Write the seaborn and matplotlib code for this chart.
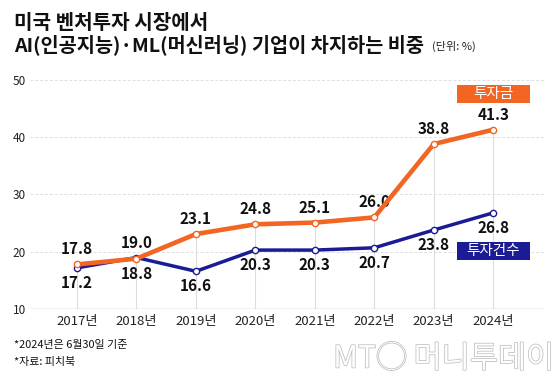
import matplotlib
matplotlib.use("Agg")
import matplotlib.pyplot as plt
import matplotlib.patheffects as pe
from matplotlib.patches import Rectangle
import seaborn as sns
import pandas as pd

# 데이터
years = ["2017년", "2018년", "2019년", "2020년", "2021년", "2022년", "2023년", "2024년"]
invest_amount = [17.8, 18.8, 23.1, 24.8, 25.1, 26.0, 38.8, 41.3]   # 투자금
invest_count = [17.2, 19.0, 16.6, 20.3, 20.3, 20.7, 23.8, 26.8]    # 투자건수
yticks = [10, 20, 30, 40, 50]

ORANGE = "#F26522"
NAVY = "#1B1B96"

sns.set_style("white")
plt.rcParams['font.family'] = ['Noto Sans CJK KR', 'DejaVu Sans']

df = pd.DataFrame({"year": years, "투자금": invest_amount, "투자건수": invest_count})

fig = plt.figure(figsize=(5.6, 3.84), dpi=100)
ax = fig.add_axes([0.0536, 0.195, 0.92, 0.597])

# 세로 보조선 (바닥에서 큰 값까지)
xs = list(range(len(years)))
tops = [max(a, b) for a, b in zip(invest_amount, invest_count)]
ax.vlines(xs, 10, tops, color="#dcdcdc", lw=0.8, zorder=0)

# 가로 점선 격자
for y in yticks[1:]:
    ax.axhline(y, color="#dedede", lw=0.7, ls=(0, (3, 2)), zorder=0)
ax.axhline(10, color="#9a9a9a", lw=0.9, zorder=1)

sns.lineplot(data=df, x="year", y="투자건수", ax=ax, color=NAVY, lw=2.5,
             marker="o", markersize=4.5, markerfacecolor="white",
             markeredgecolor=NAVY, markeredgewidth=1.0, zorder=3)
sns.lineplot(data=df, x="year", y="투자금", ax=ax, color=ORANGE, lw=3.3,
             marker="o", markersize=4.5, markerfacecolor="white",
             markeredgecolor=ORANGE, markeredgewidth=1.0, zorder=4)

# 값 라벨: 큰 값은 위, 작은 값은 아래
for i, (a, b) in enumerate(zip(invest_amount, invest_count)):
    hi, lo = (a, b) if a >= b else (b, a)
    ax.annotate(f"{hi:.1f}", (i, hi), xytext=(0, 5), textcoords="offset points",
                ha="center", va="bottom", fontsize=11, fontweight="bold", color="#111")
    ax.annotate(f"{lo:.1f}", (i, lo), xytext=(0, -5), textcoords="offset points",
                ha="center", va="top", fontsize=11, fontweight="bold", color="#111")

ax.set_xlim(-0.79, 7.875)
ax.set_ylim(10, 50)
ax.set_yticks(yticks)
ax.set_xlabel("")
ax.set_ylabel("")
ax.tick_params(axis="both", length=0, labelsize=8.5, colors="#222")
ax.tick_params(axis="x", labelsize=9.5, pad=4)
ax.tick_params(axis="y", pad=3)
for s in ax.spines.values():
    s.set_visible(False)

# 범례 박스
for y0, label, col in [(0.732, "투자금", ORANGE), (0.323, "투자건수", NAVY)]:
    fig.patches.append(Rectangle((0.816, y0), 0.130, 0.047, transform=fig.transFigure,
                                 fc=col, ec="none", zorder=5))
    fig.text(0.881, y0 + 0.0235, label, ha="center", va="center", fontsize=10.5,
             color="white", zorder=6)

# 제목
fig.text(0.025, 0.942, "미국 벤처투자 시장에서", fontsize=14.5, fontweight="bold",
         ha="left", va="center", color="#111")
fig.text(0.025, 0.883, "AI(인공지능)·ML(머신러닝) 기업이 차지하는 비중", fontsize=14.2,
         fontweight="bold", ha="left", va="center", color="#111")
fig.text(0.771, 0.880, "(단위: %)", fontsize=8, ha="left", va="center", color="#222")

# 주석
fig.text(0.025, 0.1016, "*2024년은 6월30일 기준", fontsize=7.9, ha="left", va="center", color="#111")
fig.text(0.025, 0.057, "*자료: 피치북", fontsize=7.9, ha="left", va="center", color="#111")

# 워터마크
wm = fig.text(0.99, 0.065, "MT◯ 머니투데이", fontsize=22, ha="right", va="center",
              color="white", fontweight="light")
wm.set_path_effects([pe.withStroke(linewidth=1.0, foreground="#b8b8b8")])

fig.savefig("out.png", dpi=100)
